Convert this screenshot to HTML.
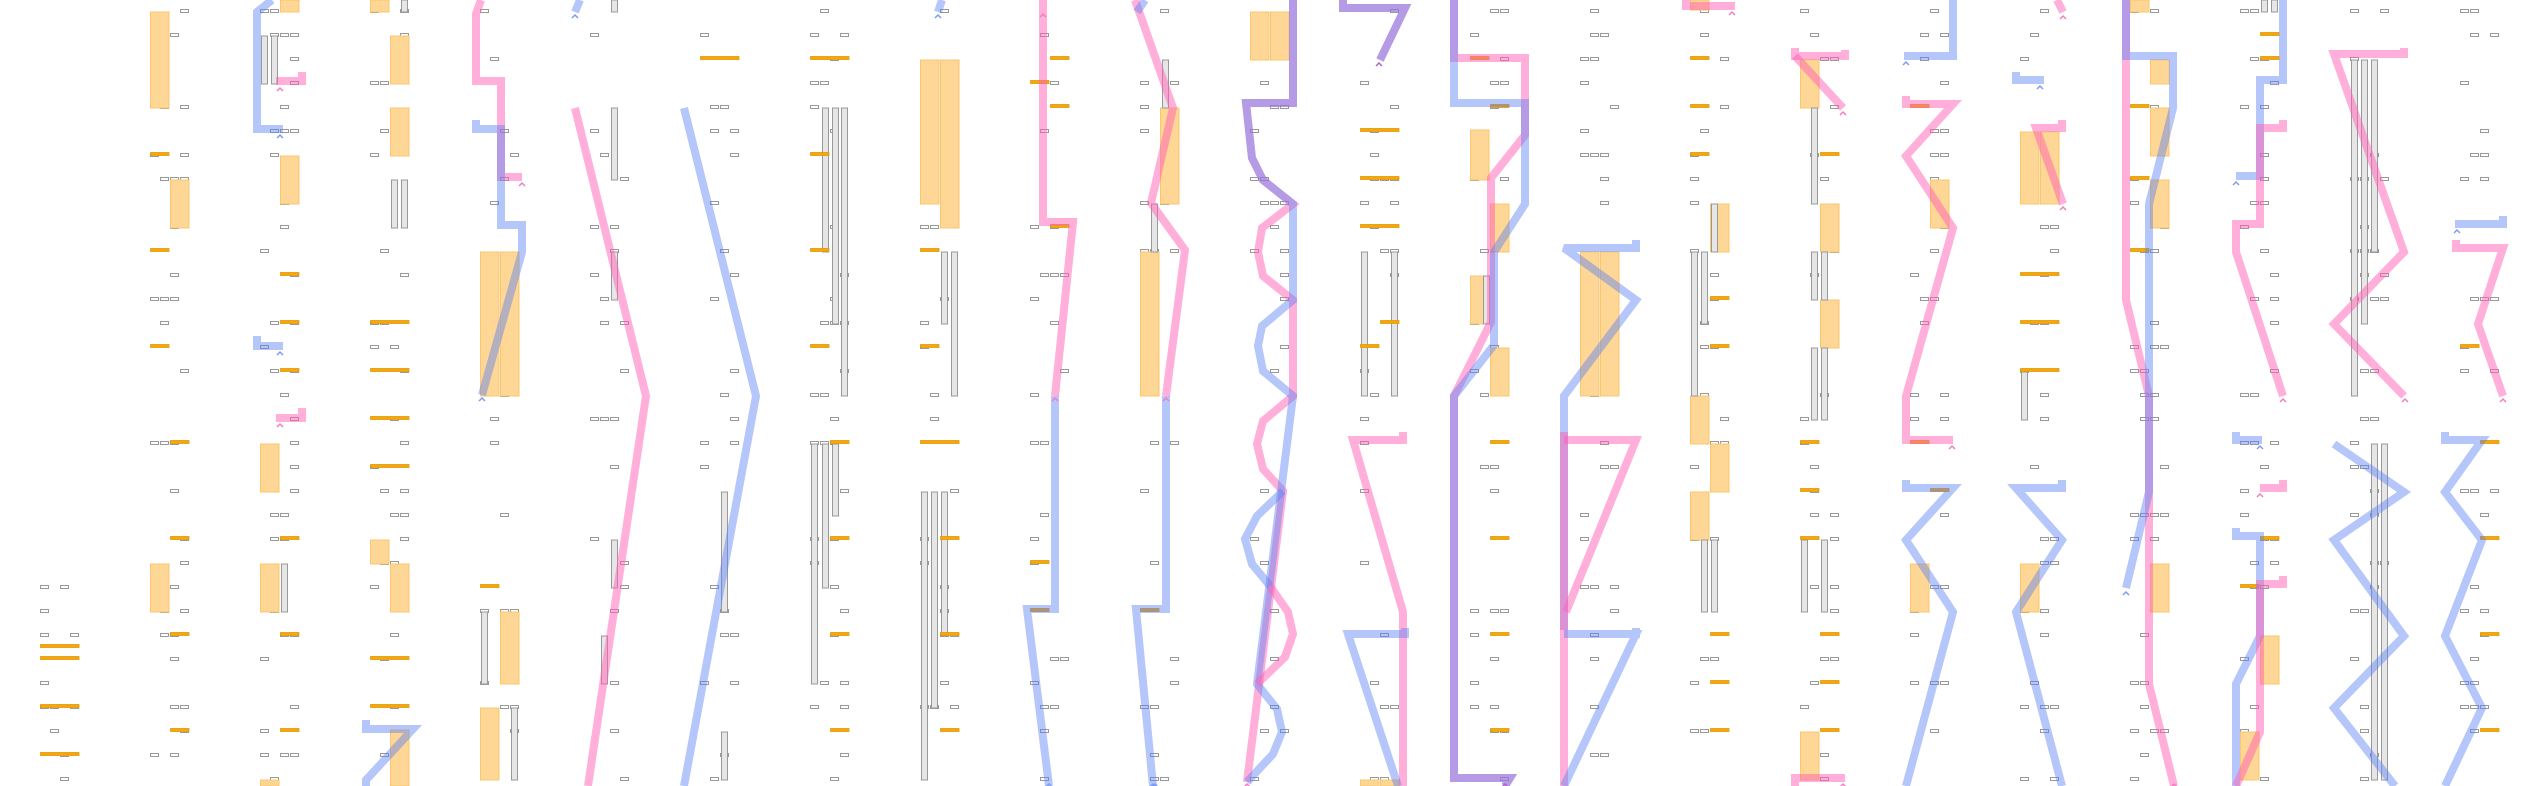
<!DOCTYPE html>
<html><head><meta charset="utf-8">
<style>
html,body{margin:0;padding:0;background:#fff;width:2540px;height:786px;overflow:hidden;font-family:"Liberation Sans",sans-serif;}
svg{display:block}
</style></head>
<body>
<svg id="s" width="2540" height="786" viewBox="0 0 2540 786" xmlns="http://www.w3.org/2000/svg"></svg>
<script>
var s=document.getElementById('s');var h='';
// gray boxes
function hash(a,b,c){var x=(a*73856093)^(b*19349663)^(c*83492791);x=(x^(x>>>13))*1274126177;x=x^(x>>>16);return (x>>>0)%1000;}
for(var k=0;k<23;k++){var x0=40+110*k;
 for(var r=0;r<33;r++){ if(k==0&&r<23)continue; var y=9+24*r;
  for(var sl=0;sl<4;sl++){ if(hash(k,r,sl)<230){h+='<rect x="'+(x0+sl*10+0.5)+'" y="'+(y+0.5)+'" width="8" height="3" fill="#fff" stroke="#999" stroke-width="1"/>';}}}}
// orange blocks
var B=[[150,12,108],[170,180,228],[150,564,612],[280,0,12],[280,156,204],[260,444,492],[260,564,612],[260,780,786],
[370,0,12],[390,36,84],[390,108,156],[370,540,564],[390,564,612],[390,730,786],[480,252,396],[500,252,396],[500,612,684],[480,708,780],
[920,60,204],[940,60,228],[1160,108,204],[1140,252,396],[1250,12,60],[1270,12,60],[1360,780,786],[1380,780,786],
[1470,130,180],[1490,204,252],[1470,276,324],[1490,348,396],[1580,252,396],[1600,252,396],
[1690,0,10],[1710,204,252],[1690,396,444],[1710,444,492],[1690,492,540],[1800,60,108],[1820,204,252],[1820,300,348],[1800,732,780],
[1930,180,228],[1910,564,612],[2020,132,204],[2040,132,204],[2020,564,612],[2130,0,12],[2150,60,84],[2150,108,156],[2150,180,228],[2150,564,612],
[2260,636,684],[2240,732,780]];
B.forEach(function(b){h+='<rect x="'+(b[0]+0.5)+'" y="'+b[1]+'" width="18.5" height="'+(b[2]-b[1])+'" fill="#fed796" stroke="#fbc66c" stroke-width="1"/>';});
// stripes
var S=[[261,36,84],[271,36,84],[281,564,612],[401,0,12],[391,180,228],[401,180,228],[481,612,684],[511,708,780],
[611,0,12],[611,108,180],[611,252,300],[611,540,588],[601,636,684],[721,492,612],[721,732,780],
[822,108,252],[832,108,324],[841,108,396],[811,444,684],[822,444,588],[832,444,516],
[941,252,324],[951,252,396],[921,492,780],[931,492,708],[941,492,636],[1162,60,108],[1151,204,252],[1361,252,396],[1391,252,396],[1483,276,324],
[1711,204,252],[1691,252,396],[1701,252,324],[1701,540,612],[1711,540,612],[1811,108,204],[1811,252,300],[1821,252,300],[1811,348,420],[1821,348,420],[1801,540,612],[1821,540,612],
[2021,372,420],[2261,0,12],[2271,0,12],[2351,60,396],[2361,60,324],[2371,60,252],[2371,444,780],[2381,444,780]];
S.forEach(function(b){h+='<rect x="'+(b[0]+0.5)+'" y="'+b[1]+'" width="6" height="'+(b[2]-b[1])+'" fill="#e6e6e6" stroke="#999" stroke-width="1"/>';});
// orange bars
var O=[[40,646,39],[40,658,39],[40,706,39],[40,754,39],[150,154],[150,250],[150,346],[170,442],[170,538],[170,634],[170,730],
[280,274],[280,322],[280,370],[280,538],[280,634],[280,730],[370,322,39],[370,370,39],[370,418,39],[370,466,39],[370,658,39],[370,706,39],
[480,586],[700,58,39],[810,58,39],[810,154],[810,250],[810,346],[830,442],[830,538],[830,634],[830,730],
[920,250],[920,346],[920,442,39],[940,538],[940,634],[940,730],[1030,82],[1050,58],[1050,106],[1050,226],[1030,562],[1030,610],[1140,610],
[1360,130,39],[1360,178,39],[1360,226,39],[1380,322],[1360,346],[1470,58],[1490,106],[1490,442],[1490,538],[1490,634],[1490,730],
[1690,58],[1690,106],[1690,154],[1710,298],[1710,346],[1710,634],[1710,682],[1710,730],
[1820,154],[1800,442],[1800,490],[1800,538],[1820,634],[1820,682],[1820,730],[1910,106],[1910,442],[1930,490],
[2020,274,39],[2020,322,39],[2020,370,39],[2130,106],[2130,178],[2130,250],[2260,34],[2260,58],[2260,538],[2240,586],
[2460,346],[2480,442],[2480,538],[2480,634],[2480,730]];
O.forEach(function(b){var w=b[2]||19;h+='<rect x="'+(b[0]+0.5)+'" y="'+(b[1]-1.5)+'" width="'+(w-0.5)+'" height="3" fill="#f5a70f" stroke="#e29a00" stroke-width="0.8"/>';});
// ribbons
var P='rgba(255,95,180,0.5)',L='rgba(90,128,245,0.45)';
var R=[
[L,[[272,0],[257,12],[257,129],[283,129]]],[P,[[302,72],[302,81],[276,81]]],[L,[[257,336],[257,346],[283,346]]],[P,[[302,408],[302,418],[276,418]]],
[L,[[366,720],[366,729],[413,729],[366,780],[366,786]]],
[P,[[481,0],[476,14],[476,81],[501,81],[501,177],[522,177]]],[L,[[476,120],[476,129],[501,129],[501,225],[522,225],[522,252],[482,395]]],
[L,[[580,0],[575,12]]],[P,[[575,108],[646,396],[588,786]]],[L,[[684,108],[756,396],[684,786]]],[L,[[942,0],[938,12]]],
[P,[[1043,0],[1043,222],[1073,222],[1055,396]]],[L,[[1055,396],[1055,609],[1027,609],[1049,786]]],
[P,[[1135,0],[1173,108],[1151,203],[1185,250],[1166,396]]],[L,[[1145,0],[1137,12]]],[L,[[1166,396],[1166,609],[1136,609],[1153,786]]],
[P,[[1293,0],[1293,103],[1246,103],[1252,158],[1263,180],[1293,204],[1262,228],[1258,252],[1263,276],[1293,300],[1293,396],[1263,421],[1257,444],[1263,469],[1283,491],[1247,782]]],
[L,[[1293,0],[1293,103],[1246,103],[1252,158],[1263,180],[1293,204],[1293,300],[1262,326],[1258,346],[1263,371],[1293,396],[1257,684],[1277,709],[1282,732],[1273,754],[1247,782]]],
[L,[[1283,491],[1257,516],[1245,539],[1252,564],[1270,586]]],[P,[[1270,586],[1288,612],[1293,634],[1285,657],[1257,684]]],
[P,[[1343,0],[1343,8],[1405,8],[1380,60]]],[L,[[1343,0],[1343,8],[1405,8],[1380,60]]],
[P,[[1403,432],[1403,440],[1353,440],[1403,612],[1403,786]]],[L,[[1405,628],[1405,634],[1348,634],[1398,786]]],
[P,[[1454,0],[1454,58],[1525,58],[1525,135],[1491,178],[1491,322],[1454,396],[1454,778],[1510,778],[1505,786]]],
[L,[[1454,0],[1454,103],[1525,103],[1525,204],[1494,252],[1494,345],[1454,396],[1454,778],[1510,778],[1505,786]]],
[L,[[1636,240],[1636,248],[1564,248],[1636,300],[1564,396],[1564,630]]],[P,[[1564,432],[1564,786]]],[P,[[1564,440],[1636,440],[1566,612]]],[L,[[1636,628],[1636,634],[1564,634],[1636,634],[1564,786]]],
[P,[[1686,0],[1686,6],[1735,6]]],
[P,[[1795,48],[1795,56],[1845,56],[1845,50]]],[P,[[1795,56],[1843,108]]],[P,[[1795,786],[1795,778],[1845,778]]],
[L,[[1953,0],[1953,56],[1904,56]]],[P,[[1906,96],[1906,104],[1953,104],[1906,156],[1953,228],[1906,396],[1906,440],[1953,440]]],
[L,[[1906,480],[1906,488],[1953,488],[1906,540],[1953,612],[1906,786]]],
[L,[[2016,72],[2016,80],[2044,80]]],[P,[[2057,0],[2063,12]]],[P,[[2062,120],[2062,128],[2036,128],[2063,204]]],
[L,[[2062,480],[2062,488],[2016,488],[2062,540],[2016,612],[2062,786]]],
[P,[[2126,0],[2126,300],[2149,396],[2149,684],[2174,786]]],[L,[[2126,0],[2126,56],[2173,56],[2173,108],[2149,204],[2149,492],[2126,588]]],
[L,[[2283,0],[2283,80],[2260,80],[2260,176],[2236,176]]],[P,[[2283,120],[2283,128],[2260,128],[2260,224],[2236,224],[2236,252],[2283,396]]],
[L,[[2236,432],[2236,440],[2262,440]]],[P,[[2283,480],[2283,488],[2260,488]]],
[L,[[2236,528],[2236,536],[2260,536],[2260,636],[2236,684],[2236,786]]],[P,[[2283,576],[2283,584],[2260,584],[2260,732],[2236,786]]],
[P,[[2404,48],[2404,54],[2334,54],[2404,252],[2334,324],[2404,396]]],[L,[[2334,444],[2404,492],[2334,540],[2404,636],[2334,708],[2395,786]]],
[L,[[2503,216],[2503,224],[2455,224]]],[P,[[2456,240],[2456,248],[2503,248],[2478,324],[2503,396]]],
[L,[[2445,432],[2445,440],[2482,440],[2445,492],[2482,540],[2445,636],[2482,708],[2445,786]]]
];
R.forEach(function(r){h+='<polyline fill="none" stroke="'+r[0]+'" stroke-width="8" stroke-linejoin="miter" stroke-miterlimit="3" points="'+r[1].map(function(p){return p.join(',')}).join(' ')+'"/>';});
// arrowheads
var A=[[280,135,'#7b9cf5'],[280,352,'#7b9cf5'],[280,88,'#f47cc0'],[280,424,'#f47cc0'],[522,183,'#f47cc0'],[482,398,'#7b9cf5'],[575,15,'#7b9cf5'],[938,15,'#7b9cf5'],
[1043,14,'#f47cc0'],[1055,398,'#f47cc0'],[1049,784,'#7b9cf5'],[1166,398,'#f47cc0'],[1153,784,'#7b9cf5'],[1379,63,'#b460c8'],[1843,112,'#f47cc0'],[1843,784,'#f47cc0'],
[1732,12,'#f47cc0'],[1906,62,'#7b9cf5'],[1952,446,'#f47cc0'],[2040,86,'#7b9cf5'],[2063,16,'#f47cc0'],[2063,207,'#f47cc0'],[2126,592,'#7b9cf5'],[2174,784,'#f47cc0'],
[2236,182,'#7b9cf5'],[2283,399,'#f47cc0'],[2260,446,'#7b9cf5'],[2260,494,'#f47cc0'],[2503,399,'#f47cc0'],[2457,230,'#7b9cf5'],[2405,399,'#f47cc0'],[1247,784,'#f47cc0'],[1505,784,'#b460c8'],[1155,784,'#7b9cf5']];
A.forEach(function(a){h+='<polyline fill="none" stroke="'+a[2]+'" stroke-width="1.5" points="'+(a[0]-3)+','+(a[1]+3)+' '+a[0]+','+a[1]+' '+(a[0]+3)+','+(a[1]+3)+'"/>';});
s.innerHTML=h;
</script>
</body></html>
